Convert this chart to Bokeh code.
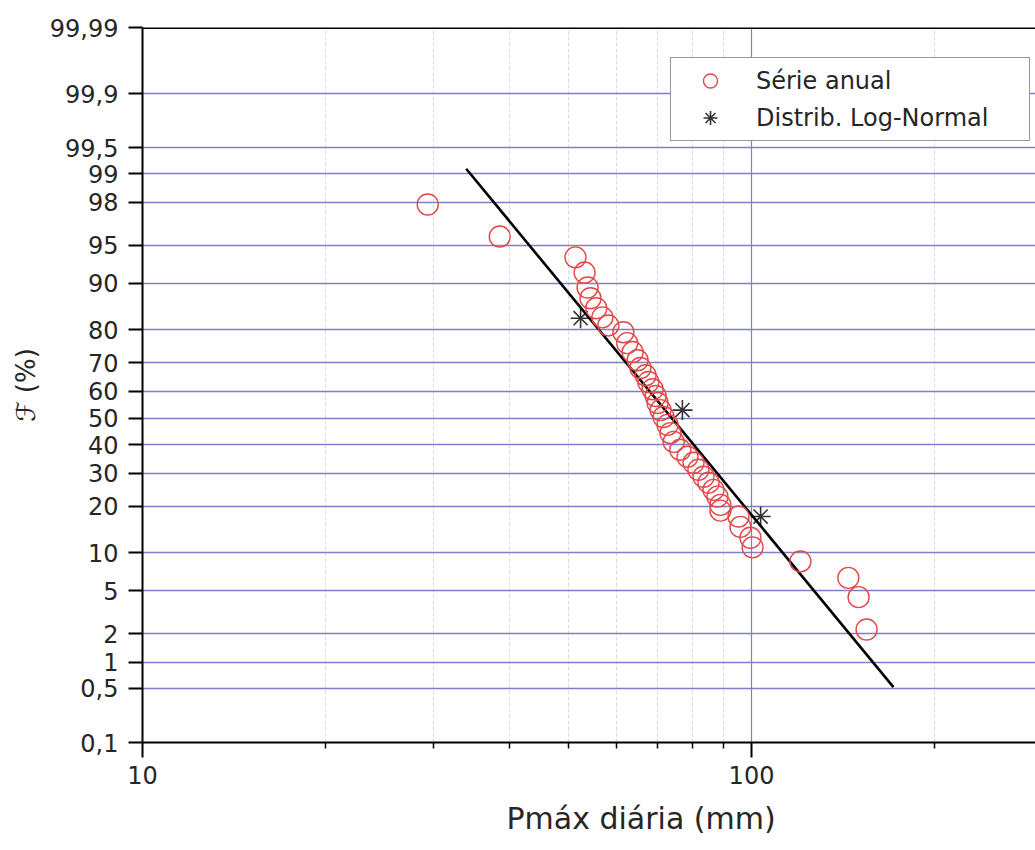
from statistics import NormalDist

from bokeh.plotting import figure
from bokeh.models import (Range1d, FixedTicker, CustomJSTickFormatter, Legend,
                          LegendItem, Span, ColumnDataSource, Title)
from bokeh.embed import file_html
from bokeh.resources import INLINE

# ---------------- data ----------------
# Annual series: daily maximum precipitation (mm) and probability F (%)
serie_pmax = [29.4, 38.6, 51.4, 53.2, 53.8, 54.4, 55.6, 56.9, 58.2, 61.6,
              62.5, 63.8, 65.0, 65.7, 67.0, 67.7, 68.8, 69.6, 70.1, 70.9,
              71.7, 72.8, 73.6, 74.5, 76.4, 78.5, 80.3, 81.8, 83.4, 85.0,
              86.6, 87.9, 88.9, 88.9, 95.2, 95.9, 99.6, 100.4, 120.3, 144.2,
              149.9, 154.5]
serie_F = [97.9, 95.8, 93.7, 91.7, 89.3, 87.3, 85.2, 83.1, 81.1, 79.3,
           76.2, 73.5, 70.9, 68.3, 65.8, 63.4, 60.8, 58.3, 55.7, 53.0,
           50.4, 47.4, 44.3, 41.0, 38.1, 35.6, 33.5, 31.1, 28.8, 26.9,
           24.7, 22.7, 20.4, 18.9, 17.4, 15.0, 12.7, 10.9, 8.6, 6.4,
           4.4, 2.2]

# Log-Normal distribution markers
dist_pmax = [52.4, 77.0, 103.5]
dist_F = [82.9, 53.0, 17.4]

# Fitted Log-Normal line (end points)
fit_pmax = [34.0, 171.0]
fit_F = [99.12, 0.52]

# Axis ticks
y_tick_values = [0.1, 0.5, 1, 2, 5, 10, 20, 30, 40, 50, 60, 70, 80, 90,
                 95, 98, 99, 99.5, 99.9, 99.99]
y_tick_labels = ["0,1", "0,5", "1", "2", "5", "10", "20", "30", "40", "50",
                 "60", "70", "80", "90", "95", "98", "99", "99,5", "99,9",
                 "99,99"]
x_tick_values = [10, 100]
x_minor_values = [20, 30, 40, 50, 60, 70, 80, 90, 200]

x_title = "Pmáx diária (mm)"
y_title = "ℱ (%)"

# ---------------- probability (normal) scale ----------------
nd = NormalDist()


def prob_to_z(F):
    return nd.inv_cdf(F / 100.0)


FONT = "DejaVu Sans"
TXT = "#262626"

Y0 = prob_to_z(0.1)
Y1 = prob_to_z(99.99)

p = figure(width=1035, height=850, x_axis_type="log",
           x_range=Range1d(10, 292.6),
           y_range=Range1d(Y0, Y1),
           output_backend="svg", toolbar_location=None,
           min_border_left=142, min_border_right=0,
           min_border_top=27, min_border_bottom=108,
           background_fill_color="white", border_fill_color="white")
p.outline_line_color = None

# grids
p.xgrid.ticker = FixedTicker(ticks=x_tick_values, minor_ticks=x_minor_values)
p.xgrid.grid_line_color = "#7f7fc8"
p.xgrid.grid_line_width = 1.2
p.xgrid.minor_grid_line_color = "#dadae6"
p.xgrid.minor_grid_line_width = 1
p.xgrid.minor_grid_line_dash = "4 2"

y_ticks_z = [prob_to_z(v) for v in y_tick_values]
p.ygrid.ticker = FixedTicker(ticks=y_ticks_z)
p.ygrid.grid_line_color = "#7f7fc8"
p.ygrid.grid_line_width = 1.4

# x axis
xa = p.xaxis[0]
xa.ticker = FixedTicker(ticks=x_tick_values, minor_ticks=x_minor_values)
xa.formatter = CustomJSTickFormatter(code="return tick.toFixed(0);")
xa.major_label_text_font = FONT
xa.major_label_text_font_size = "24px"
xa.major_label_text_color = TXT
xa.major_label_standoff = 8
xa.axis_line_color = "black"
xa.axis_line_width = 2
xa.major_tick_line_color = "black"
xa.major_tick_line_width = 2
xa.major_tick_in = 0
xa.major_tick_out = 15
xa.minor_tick_line_color = "black"
xa.minor_tick_line_width = 1.5
xa.minor_tick_in = 0
xa.minor_tick_out = 6

# x axis title (the original is cropped on the right, so it sits right of centre)
p.add_layout(Title(text=x_title, align="left", offset=364,
                   vertical_align="bottom", standoff=24,
                   text_font=FONT, text_font_size="30px",
                   text_font_style="normal", text_color=TXT), "below")

# y axis
ya = p.yaxis[0]
ya.ticker = FixedTicker(ticks=y_ticks_z)
ya.formatter = CustomJSTickFormatter(
    args=dict(tv=y_ticks_z, tl=y_tick_labels),
    code="""
    let best = 0, bd = 1e9;
    for (let i = 0; i < tv.length; i++) {
        const d = Math.abs(tv[i] - tick);
        if (d < bd) { bd = d; best = i; }
    }
    return tl[best];
    """)
ya.axis_label = y_title
ya.axis_label_text_font = FONT
ya.axis_label_text_font_size = "26px"
ya.axis_label_text_font_style = "normal"
ya.axis_label_text_color = TXT
ya.axis_label_standoff = 6
ya.major_label_text_font = FONT
ya.major_label_text_font_size = "24px"
ya.major_label_text_color = TXT
ya.major_label_standoff = 10
ya.axis_line_color = "black"
ya.axis_line_width = 2
ya.major_tick_line_color = "black"
ya.major_tick_line_width = 2
ya.major_tick_in = 0
ya.major_tick_out = 14
ya.minor_tick_line_color = None

# top frame line
p.add_layout(Span(location=Y1, dimension="width",
                  line_color="black", line_width=3))

# ---------------- glyphs ----------------
src_serie = ColumnDataSource(dict(x=serie_pmax, y=[prob_to_z(v) for v in serie_F]))
src_dist = ColumnDataSource(dict(x=dist_pmax, y=[prob_to_z(v) for v in dist_F]))
src_fit = ColumnDataSource(dict(x=fit_pmax, y=[prob_to_z(v) for v in fit_F]))

r_ast = p.scatter("x", "y", source=src_dist, marker="asterisk", size=20,
                  line_color="#333333", line_width=1.6)
r_line = p.line("x", "y", source=src_fit, line_color="black", line_width=2.6)
r_circ = p.scatter("x", "y", source=src_serie, marker="circle", size=21,
                   fill_color=None, line_color="#e34848", line_width=1.4)

legend = Legend(items=[LegendItem(label="Série anual", renderers=[r_circ]),
                       LegendItem(label="Distrib. Log-Normal", renderers=[r_ast])],
                location=(528, 601), padding=5, spacing=2,
                glyph_width=68, glyph_height=35, label_height=35,
                label_width=268, label_standoff=12, margin=0,
                label_text_font=FONT, label_text_font_size="24px",
                label_text_color=TXT,
                border_line_color="#333333", border_line_width=1.5,
                background_fill_color="white", background_fill_alpha=1.0)
p.add_layout(legend)

open("out.html", "w").write(file_html(p, INLINE))
